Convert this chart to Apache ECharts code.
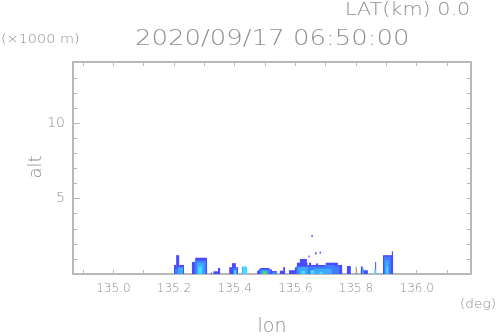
<!DOCTYPE html>
<html><head><meta charset="utf-8">
<script src="https://cdn.jsdelivr.net/npm/echarts@6/dist/echarts.min.js"></script>
<style>html,body{margin:0;padding:0;background:#fff}#c{width:498px;height:336px}</style>
</head><body><div id="c"></div>
<script>
// ---- data (lon in deg, alt in km) ----
const lonRange = [134.867, 136.179];
const altRange = [0, 14.07];
const lonTicks = [134.9,135.0,135.1,135.2,135.3,135.4,135.5,135.6,135.7,135.8,135.9,136.0,136.1];
const lonLabels = [135.0,135.2,135.4,135.6,135.8,136.0];
const altTicks = [1,2,3,4,5,6,7,8,9,10,11,12,13];
const altLabels = [5,10];
const levelColors = ['#8c8c8c','#4a4aff','#3f7fff','#3fa8ff','#3fe0ff','#3fd080','#a0e040'];
// cells: [lonStart, lonEnd, altBottom, altTop]
const level0Cells = [
  [135.598,135.601,0,0.4],[135.799,135.802,0,0.5]
];
const level1Cells = [
  [135.200,135.207,0,0.6],[135.207,135.217,0,1.25],[135.217,135.233,0,0.6],
  [135.259,135.270,0,0.8],[135.270,135.309,0,1.08],
  [135.322,135.325,0,0.1],[135.330,135.345,0,0.18],[135.345,135.352,0,0.4],
  [135.382,135.411,0,0.45],[135.391,135.404,0,0.72],
  [135.474,135.539,0,0.2],[135.478,135.523,0,0.3],[135.484,135.515,0,0.4],
  [135.549,135.566,0,0.22],[135.560,135.566,0,0.45],
  [135.579,135.599,0,0.25],
  [135.599,135.754,0,0.45],[135.605,135.640,0,0.75],[135.615,135.638,0,1.0],
  [135.640,135.700,0,0.6],[135.645,135.652,0,0.75],[135.668,135.675,0,0.7],
  [135.700,135.740,0,0.75],[135.740,135.754,0,0.6],
  [135.653,135.657,2.45,2.6],[135.665,135.670,1.3,1.45],[135.680,135.684,1.35,1.5],[135.643,135.647,1.1,1.22],
  [135.770,135.783,0,0.53],
  [135.816,135.822,0,0.5],[135.816,135.839,0,0.25],
  [135.863,135.866,0,0.8],
  [135.889,135.922,0,1.25],[135.918,135.922,0,1.5]
];
const level2Cells = [
  [135.203,135.213,0,0.35],
  [135.268,135.305,0,0.9],
  [135.395,135.408,0,0.4],
  [135.482,135.518,0,0.3],[135.523,135.539,0,0.15],
  [135.603,135.745,0,0.5],[135.700,135.730,0,0.6],
  [135.892,135.915,0,1.15]
];
const level3Cells = [
  [135.213,135.230,0,0.45],
  [135.275,135.300,0,0.75],
  [135.424,135.428,0,0.5],
  [135.488,135.510,0,0.25],
  [135.610,135.640,0,0.45],[135.660,135.720,0,0.35],
  [135.820,135.826,0,0.35],
  [135.896,135.908,0,0.9]
];
const level4Cells = [
  [135.280,135.292,0,0.5],
  [135.398,135.405,0,0.25],
  [135.428,135.441,0,0.5],
  [135.620,135.632,0,0.2],[135.650,135.662,0,0.25],[135.680,135.690,0,0.15],
  [135.860,135.866,0,0.25],
  [135.900,135.905,0,0.5]
];
const level5Cells = [[135.492,135.505,0,0.18]];
const level6Cells = [[135.496,135.501,0,0.1]];
const allLevels = [level0Cells,level1Cells,level2Cells,level3Cells,level4Cells,level5Cells,level6Cells];

// ---- chart ----
const gray = '#8e8e8e', frame = '#b8b8b8', font = 'DejaVu Sans', fw = 200;
const chart = echarts.init(document.getElementById('c'), null, {renderer:'canvas'});
function renderCell(color){
  return function(params, api){
    const p0 = api.coord([api.value(0), api.value(3)]);
    const p1 = api.coord([api.value(1), api.value(2)]);
    return {type:'rect', shape:{x:p0[0], y:p0[1], width:Math.max(1,p1[0]-p0[0]), height:p1[1]-p0[1]},
      style:{fill:color}};
  };
}
const series = allLevels.map((cells,i)=>({
  type:'custom', xAxisIndex:0, yAxisIndex:0, data:cells, renderItem:renderCell(levelColors[i]),
  clip:true, silent:true, z:2+i
}));
const baseX = {type:'value', min:lonRange[0], max:lonRange[1], splitLine:{show:false},
  axisLine:{show:true, onZero:false, lineStyle:{color:frame, width:2}}};
const baseY = {type:'value', min:altRange[0], max:altRange[1], splitLine:{show:false},
  axisLine:{show:true, onZero:false, lineStyle:{color:frame, width:2}}};
const tf = (size)=> fw + ' ' + size + 'px "DejaVu Sans"';
chart.setOption({
  animation:false,
  grid:{left:73, top:62, right:27, bottom:62, containLabel:false},
  xAxis:[
    Object.assign({}, baseX, {position:'bottom',
      axisTick:{show:true, inside:true, length:4, customValues:lonTicks, lineStyle:{color:frame}},
      axisLabel:{show:true, customValues:lonLabels, formatter:v=>Number(v).toFixed(1), color:gray, fontFamily:font, fontWeight:fw, fontSize:12, margin:9}}),
    Object.assign({}, baseX, {position:'top',
      axisTick:{show:true, inside:true, length:4, customValues:lonTicks, lineStyle:{color:frame}},
      axisLabel:{show:false}})
  ],
  yAxis:[
    Object.assign({}, baseY, {position:'left',
      axisTick:{show:true, inside:true, length:4, customValues:altTicks, lineStyle:{color:frame}},
      axisLabel:{show:false}}),
    Object.assign({}, baseY, {position:'left',
      axisTick:{show:true, inside:true, length:7, customValues:altLabels, lineStyle:{color:frame}},
      axisLabel:{show:true, customValues:altLabels, color:gray, fontFamily:font, fontWeight:fw, fontSize:14, margin:8}}),
    Object.assign({}, baseY, {position:'right',
      axisTick:{show:true, inside:true, length:4, customValues:altTicks, lineStyle:{color:frame}},
      axisLabel:{show:false}})
  ],
  series:series,
  graphic:[
    {type:'text', x:345, y:11, scaleX:1.22, style:{text:'LAT(km) 0.0', font:tf(17), fill:gray, align:'left', verticalAlign:'middle'}},
    {type:'text', x:1, y:40, scaleX:1.2, style:{text:'(×1000 m)', font:tf(12), fill:gray, align:'left', verticalAlign:'middle'}},
    {type:'text', x:135, y:39, scaleX:1.18, style:{text:'2020/09/17 06:50:00', font:tf(22), fill:gray, align:'left', verticalAlign:'middle'}},
    {type:'text', x:36, y:167, rotation:Math.PI/2, style:{text:'alt', font:tf(18), fill:gray, align:'center', verticalAlign:'middle'}},
    {type:'text', x:272, y:327, style:{text:'lon', font:tf(19), fill:gray, align:'center', verticalAlign:'middle'}},
    {type:'text', x:478, y:305, scaleX:1.05, style:{text:'(deg)', font:tf(13), fill:gray, align:'center', verticalAlign:'middle'}}
  ]
});
</script></body></html>
